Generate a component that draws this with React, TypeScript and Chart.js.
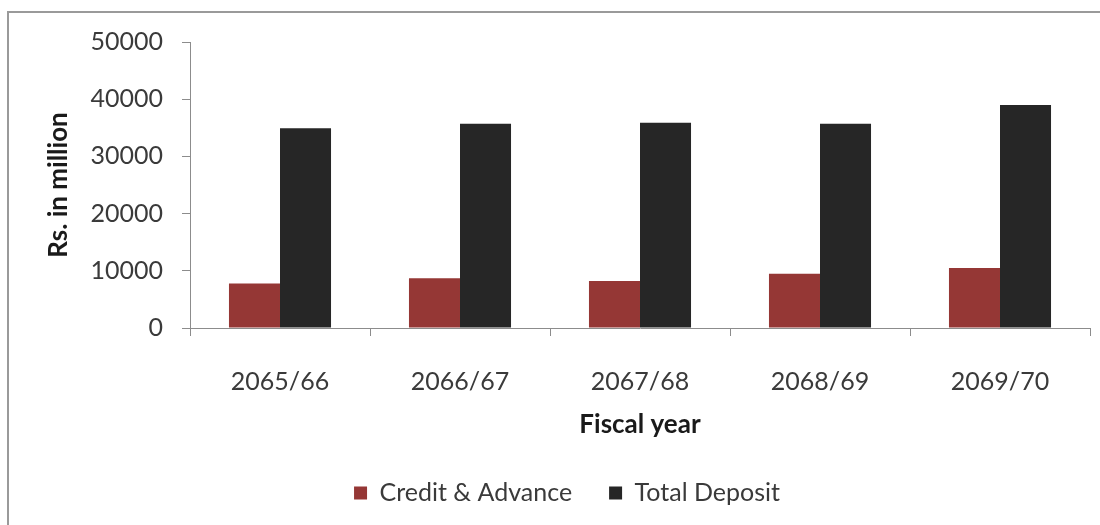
import React, { useEffect, useRef } from "react";
import { Chart, registerables } from "chart.js";

Chart.register(...registerables);

const categories = ["2065/66", "2066/67", "2067/68", "2068/69", "2069/70"];
const creditAdvance = [7800, 8700, 8200, 9500, 10500];
const totalDeposit = [34900, 35700, 35900, 35700, 39000];
const seriesNames = ["Credit & Advance", "Total Deposit"];
const yTicks = [0, 10000, 20000, 30000, 40000, 50000];

const FONT = "Lato, 'Open Sans', sans-serif";
const TEXT = "#3a3a3a";
const AXIS = "#8c8c8c";

export default function App() {
  const ref = useRef<HTMLCanvasElement | null>(null);

  useEffect(() => {
    const canvas = ref.current;
    if (!canvas) return;
    const chart = new Chart(canvas, {
      type: "bar",
      data: {
        labels: categories,
        datasets: [
          {
            label: seriesNames[0],
            data: creditAdvance,
            backgroundColor: "#953735",
            borderWidth: 0,
            categoryPercentage: 0.567,
            barPercentage: 1,
          },
          {
            label: seriesNames[1],
            data: totalDeposit,
            backgroundColor: "#262626",
            borderWidth: 0,
            categoryPercentage: 0.567,
            barPercentage: 1,
          },
        ],
      },
      options: {
        responsive: false,
        animation: false,
        layout: { padding: { left: 44, right: 10, top: 42, bottom: 9.5 } },
        plugins: {
          tooltip: { enabled: false },
          legend: {
            position: "bottom",
            labels: {
              font: { family: FONT, size: 25 },
              color: TEXT,
              boxWidth: 13,
              boxHeight: 13,
              padding: 37,
            },
          },
        },
        scales: {
          x: {
            grid: {
              display: true,
              offset: true,
              drawOnChartArea: false,
              tickLength: 8,
              color: AXIS,
            },
            border: { display: true, color: AXIS, width: 1 },
            ticks: {
              font: { family: FONT, size: 25 },
              color: TEXT,
              padding: 31,
              maxRotation: 0,
            },
            title: {
              display: true,
              text: "Fiscal year",
              font: { family: FONT, size: 26, weight: "bold" },
              color: "#1a1a1a",
              padding: { top: 0, bottom: 3 },
            },
            afterFit: (s: any) => {
              s.height = 115.5;
            },
          },
          y: {
            min: 0,
            max: 50000,
            afterBuildTicks: (s: any) => {
              s.ticks = yTicks.map((v) => ({ value: v }));
            },
            grid: {
              display: true,
              drawOnChartArea: false,
              tickLength: 8,
              color: AXIS,
            },
            border: { display: true, color: AXIS, width: 1 },
            ticks: {
              font: { family: FONT, size: 25 },
              color: TEXT,
              padding: 19,
              callback: (v: any) => String(v),
            },
            title: {
              display: true,
              text: "Rs. in million",
              font: { family: FONT, size: 26, weight: "bold" },
              color: "#1a1a1a",
              padding: { top: -1, bottom: 0 },
            },
            afterFit: (s: any) => {
              s.width = 146;
            },
          },
        },
      },
    });
    return () => chart.destroy();
  }, []);

  return (
    <div
      style={{
        position: "fixed",
        left: 0,
        top: 0,
        width: 1100,
        height: 525,
        overflow: "hidden",
        background: "#ffffff",
      }}
    >
      <div
        style={{
          position: "absolute",
          left: 7,
          top: 11,
          width: 1110,
          height: 540,
          border: "2px solid #9a9a9a",
          boxSizing: "border-box",
        }}
      />
      <canvas
        ref={ref}
        width={1100}
        height={525}
        style={{ position: "absolute", left: 0, top: 0, width: 1100, height: 525 }}
      />
    </div>
  );
}
